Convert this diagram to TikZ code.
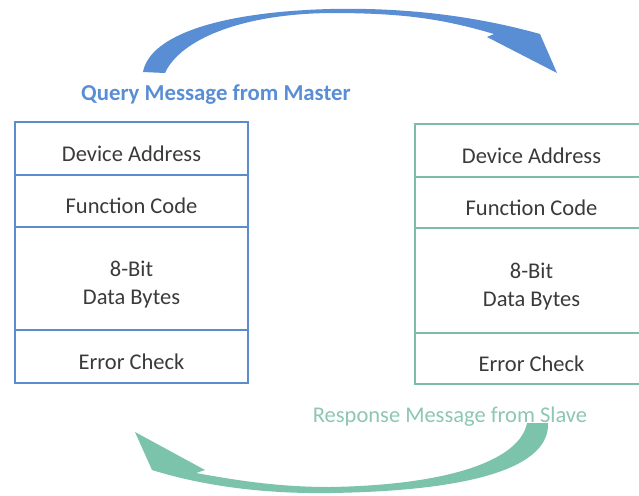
\documentclass[tikz,border=0pt]{standalone}
\usepackage{fontspec}
\setmainfont{Carlito}
\usetikzlibrary{positioning}

\definecolor{mblue}{HTML}{5B8DCC}
\definecolor{qblue}{HTML}{5A8ED4}
\definecolor{sgreen}{HTML}{80BBA5}
\definecolor{rgreen}{HTML}{7CC3AB}
\definecolor{rtext}{HTML}{8DC6B2}
\definecolor{celltext}{HTML}{3A3A3A}

\begin{document}
\begin{tikzpicture}[x=0.025cm, y=-0.025cm,
    cell/.style={draw, line width=1.4pt, outer sep=0pt, minimum width=233*\u,
      text=celltext, align=center, font=\fontsize{16}{19.5}\selectfont,
      text height=18pt, text depth=0pt},
    twoline/.style={text height=36.7pt},
    label/.style={font=\fontsize{16}{19}\selectfont}]
  % one pixel of the picture
  \def\u{0.025cm}
  \useasboundingbox (0,0) rectangle (639,495);

  % frame sent by the master
  \node[cell, draw=mblue, minimum height=53*\u] (q1) at (131.5,148.5) {Device Address};
  \node[cell, draw=mblue, minimum height=52*\u, below=0pt of q1] (q2) {Function Code};
  \node[cell, twoline, draw=mblue, minimum height=103*\u, below=0pt of q2] (q3) {8-Bit\\Data Bytes};
  \node[cell, draw=mblue, minimum height=53*\u, below=0pt of q3] (q4) {Error Check};

  % frame sent back by the slave
  \node[cell, draw=sgreen, line width=1.1pt, minimum height=53*\u] (r1) at (531.5,150.5) {Device Address};
  \node[cell, draw=sgreen, line width=1.1pt, minimum height=51*\u, below=0pt of r1] (r2) {Function Code};
  \node[cell, twoline, draw=sgreen, line width=1.1pt, minimum height=105*\u, below=0pt of r2] (r3) {8-Bit\\Data Bytes};
  \node[cell, draw=sgreen, line width=1.1pt, minimum height=51*\u, below=0pt of r3] (r4) {Error Check};

  % captions
  \node[label, text=qblue, font=\fontsize{16.2}{19}\selectfont\bfseries] (qlab) at (216,95) {Query Message from Master};
  \node[label, text=rtext] (rlab) at (450,417) {Response Message from Slave};

  % curved arrow over the top
  \fill[qblue] (143,72) .. controls (150,35) and (220,12) .. (330,9)
    .. controls (420,7) and (490,20) .. (540,34) -- (557,73) -- (487,37) -- (494,34)
    .. controls (440,18) and (400,13) .. (330,13)
    .. controls (240,14) and (180,40) .. (165,73) -- cycle;

  % curved arrow underneath
  \fill[rgreen] (548,423) .. controls (550,468) and (470,491) .. (330,493)
    .. controls (260,494) and (200,485) .. (152,470) -- (135,432) -- (205,470) -- (196,473)
    .. controls (240,481) and (280,487) .. (330,487)
    .. controls (450,485) and (520,460) .. (527,423) -- cycle;
\end{tikzpicture}
\end{document}
